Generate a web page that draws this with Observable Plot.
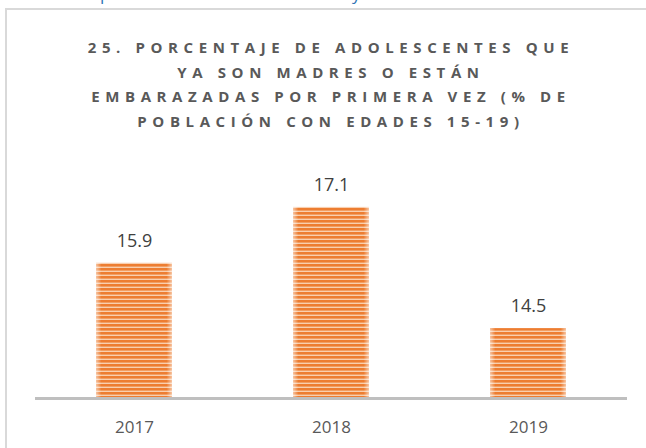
<!DOCTYPE html>
<html>
<head>
<meta charset="utf-8">
<script src="https://cdn.jsdelivr.net/npm/d3@7"></script>
<script src="https://cdn.jsdelivr.net/npm/@observablehq/plot@0.6"></script>
<style>
  html, body { margin: 0; padding: 0; background: #fff; }
  body { width: 646px; height: 448px; position: relative; overflow: hidden; font-family: "Open Sans", "Liberation Sans", sans-serif; }
  #frame { position: absolute; left: 5px; top: 8px; width: 660px; height: 460px; border: 2px solid #d9d9d9; box-sizing: border-box; }
  #topline span { position: absolute; top: -18px; color: #2e74b5; font-size: 17px; font-family: "Open Sans", sans-serif; }
  #title { position: absolute; left: 0; top: 35px; width: 662px; text-align: center; color: #595959; font-weight: bold; font-size: 15px; letter-spacing: 5.6px; line-height: 24.5px; }
  #chart { position: absolute; left: 0; top: 140px; }
</style>
</head>
<body>
<div id="topline"></div>
<div id="frame"></div>
<div id="title"></div>
<div id="chart"></div>
<script>
const years = ["2017", "2018", "2019"];
const values = [15.9, 17.1, 14.5];
const titleLines = [
  "25. PORCENTAJE DE ADOLESCENTES QUE",
  "YA SON MADRES O ESTÁN",
  "EMBARAZADAS POR PRIMERA VEZ (% DE",
  "POBLACIÓN CON EDADES 15-19)"
];
const topFragments = [{t: "p", x: 100}, {t: "y", x: 352}];

const topLine = document.getElementById("topline");
topFragments.forEach(f => {
  const s = document.createElement("span");
  s.textContent = f.t;
  s.style.left = f.x + "px";
  topLine.appendChild(s);
});
document.getElementById("title").innerHTML = titleLines.join("<br>");

const data = years.map((y, i) => ({year: y, value: values[i]}));

const chart = Plot.plot({
  width: 646,
  height: 308,
  marginLeft: 35,
  marginRight: 19,
  marginTop: 25,
  marginBottom: 50,
  style: {fontFamily: "'Open Sans', sans-serif", background: "transparent", overflow: "visible"},
  x: {domain: years, paddingInner: 0.615, paddingOuter: 0.3075, label: null},
  y: {domain: [13, 18], axis: null},
  marks: [
    Plot.barY(data, {x: "year", y1: 13, y2: "value", fill: "url(#stripes)"}),
    Plot.barY(data, {x: "year", y1: 13, y2: "value", fill: "url(#edges)"}),
    Plot.ruleY([13], {stroke: "#bfbfbf", strokeWidth: 3}),
    Plot.text(data, {x: "year", y: "value", text: d => d.value.toFixed(1), dy: -22, fontSize: 18, fill: "#404040"}),
    Plot.axisX({tickSize: 0, tickPadding: 22, fontSize: 17, color: "#595959", label: null})
  ]
});

const svg = d3.select(chart);
const defs = svg.insert("defs", ":first-child");
const pat = defs.append("pattern").attr("id", "stripes").attr("patternUnits", "userSpaceOnUse")
  .attr("width", 4).attr("height", 4).attr("y", 0);
pat.append("rect").attr("width", 4).attr("height", 4).attr("fill", "#ed7d31");
pat.append("rect").attr("y", 2.6).attr("width", 4).attr("height", 1.4).attr("fill", "#f9cfae");
const g = defs.append("linearGradient").attr("id", "edges").attr("x1", 0).attr("x2", 1).attr("y1", 0).attr("y2", 0);
[[0, 0.55], [0.07, 0], [0.93, 0], [1, 0.55]].forEach(([o, a]) =>
  g.append("stop").attr("offset", o).attr("stop-color", "#fff").attr("stop-opacity", a));

document.getElementById("chart").appendChild(chart);
</script>
</body>
</html>
